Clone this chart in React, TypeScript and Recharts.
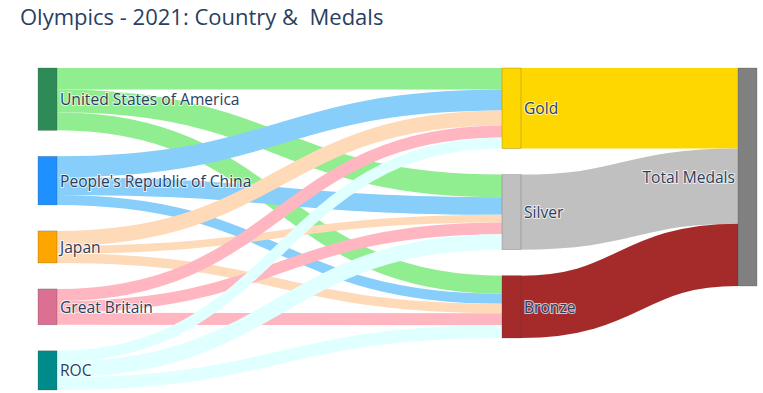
import { Sankey } from 'recharts'

const countries = ['United States of America', "People's Republic of China", 'Japan', 'Great Britain', 'ROC']
const medals = ['Gold', 'Silver', 'Bronze']
const gold = [39, 38, 27, 22, 20]
const silver = [41, 32, 14, 21, 28]
const bronze = [33, 18, 17, 22, 23]

const countryColors = ['#2E8B57', '#1E90FF', '#FFA500', '#DB7093', '#008B8B']
const countryLinkColors = ['#90EE90', '#87CEFA', '#FFDAB9', '#FFB6C1', '#E0FFFF']
const medalColors = ['#FFD700', '#C0C0C0', '#A52A2A']
const totalColor = '#808080'

const W = 763
const H = 393
const NODE_W = 19
const margin = { top: 68, right: 6, bottom: 3, left: 38 }

// node list: countries, medals, total
const nodes = [
  ...countries.map((name) => ({ name })),
  ...medals.map((name) => ({ name })),
  { name: 'Total Medals' },
]
const nodeColors = [...countryColors, ...medalColors, totalColor]
const TOTAL_INDEX = nodes.length - 1

const medalValues = [gold, silver, bronze]
const links: Array<{ source: number; target: number; value: number }> = []
const linkColors: string[] = []
countries.forEach((_, c) => {
  medalValues.forEach((vals, m) => {
    links.push({ source: c, target: countries.length + m, value: vals[c] })
    linkColors.push(countryLinkColors[c])
  })
})
medalValues.forEach((vals, m) => {
  links.push({
    source: countries.length + m,
    target: TOTAL_INDEX,
    value: vals.reduce((s, v) => s + v, 0),
  })
  linkColors.push(medalColors[m])
})

// library puts the three columns evenly apart; the reference has the
// medal column further right, so stretch the left half / squeeze the right
const colL = margin.left
const colR = W - margin.right - NODE_W
const colMid = (colL + colR) / 2
const MID_TARGET = 502
const warp = (x: number) =>
  x <= colMid
    ? colL + ((x - colL) * (MID_TARGET - colL)) / (colMid - colL)
    : MID_TARGET + ((x - colMid) * (colR - MID_TARGET)) / (colR - colMid)

const labelStyle = {
  fontFamily: '"Open Sans", verdana, arial, sans-serif',
  fontSize: 15.6,
  fill: '#2a3f5f',
  stroke: '#fff',
  strokeWidth: 2,
  strokeOpacity: 0.7,
  paintOrder: 'stroke' as const,
}

function SankeyNode(props: any) {
  const { x, y, width, height, index, payload } = props
  const nx = warp(x)
  const isSink = index === TOTAL_INDEX
  return (
    <g>
      <rect
        x={nx}
        y={y}
        width={width}
        height={height}
        fill={nodeColors[index]}
        stroke="#444"
        strokeWidth={0.5}
        strokeOpacity={0.5}
      />
      <text
        x={isSink ? nx - 3 : nx + width + 3}
        y={y + height / 2}
        textAnchor={isSink ? 'end' : 'start'}
        dominantBaseline="central"
        style={labelStyle}
      >
        {payload.name}
      </text>
    </g>
  )
}

function SankeyLink(props: any) {
  const { sourceX, targetX, sourceY, targetY, linkWidth, index } = props
  const sx = warp(sourceX - NODE_W) + NODE_W
  const tx = warp(targetX)
  const cx = (sx + tx) / 2
  return (
    <path
      d={`M${sx},${sourceY} C${cx},${sourceY} ${cx},${targetY} ${tx},${targetY}`}
      fill="none"
      stroke={linkColors[index]}
      strokeWidth={linkWidth}
    />
  )
}

export default function App() {
  return (
    <div style={{ position: 'absolute', left: 0, top: 0, width: W, height: H, background: '#fff' }}>
      <div
        style={{
          position: 'absolute',
          left: 20,
          top: 5,
          fontFamily: '"Open Sans", verdana, arial, sans-serif',
          fontSize: 22,
          lineHeight: '22px',
          color: '#2a3f5f',
          whiteSpace: 'pre',
        }}
      >
        Olympics - 2021: Country &amp;  Medals
      </div>
      <Sankey
        width={W}
        height={H}
        data={{ nodes, links }}
        nodeWidth={NODE_W}
        nodePadding={26}
        margin={margin}
        sort={false}
        iterations={0}
        node={SankeyNode}
        link={SankeyLink}
        isAnimationActive={false}
      />
    </div>
  )
}
